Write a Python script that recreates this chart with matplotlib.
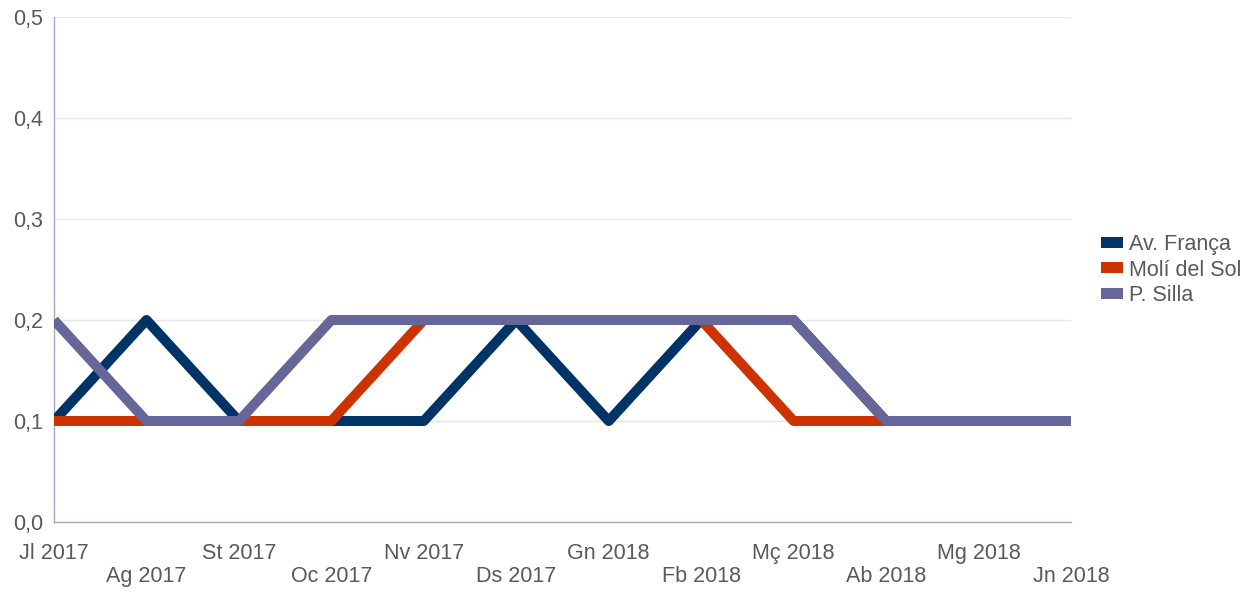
import matplotlib.pyplot as plt
from matplotlib.patches import Patch
from matplotlib.ticker import FuncFormatter

months = ['Jl 2017', 'Ag 2017', 'St 2017', 'Oc 2017', 'Nv 2017', 'Ds 2017',
          'Gn 2018', 'Fb 2018', 'Mç 2018', 'Ab 2018', 'Mg 2018', 'Jn 2018']

av_franca = [0.1, 0.2, 0.1, 0.1, 0.1, 0.2, 0.1, 0.2, 0.2, 0.1, 0.1, 0.1]
moli_sol = [0.1, 0.1, 0.1, 0.1, 0.2, 0.2, 0.2, 0.2, 0.1, 0.1, 0.1, 0.1]
p_silla = [0.2, 0.1, 0.1, 0.2, 0.2, 0.2, 0.2, 0.2, 0.2, 0.1, 0.1, 0.1]

series = [('Av. França', av_franca, '#003366'),
          ('Molí del Sol', moli_sol, '#cc3300'),
          ('P. Silla', p_silla, '#666699')]

text_col = '#595959'
plt.rcParams['font.family'] = ['Liberation Sans', 'DejaVu Sans']

fig = plt.figure(figsize=(12.53, 5.92), dpi=100)
ax = fig.add_axes([54 / 1253, 1 - 522 / 592, (1071 - 54) / 1253, (522 - 17) / 592])

x = list(range(len(months)))
for name, vals, col in series:
    ax.plot(x, vals, color=col, lw=7.2, solid_joinstyle='round',
            solid_capstyle='butt', label=name, zorder=3)

ax.set_xlim(0, len(months) - 1)
ax.set_ylim(0, 0.5)
ax.set_yticks([0, 0.1, 0.2, 0.3, 0.4, 0.5])
ax.yaxis.set_major_formatter(FuncFormatter(lambda v, p: f'{v:.1f}'.replace('.', ',')))
ax.grid(axis='y', color='#e6e6ee', lw=1)
ax.set_axisbelow(True)

for s in ['top', 'right']:
    ax.spines[s].set_visible(False)
for s in ['left', 'bottom']:
    ax.spines[s].set_color('#a6a6c4')
    ax.spines[s].set_linewidth(1)

ax.set_xticks(x)
ax.set_xticklabels(months)
ax.tick_params(axis='both', length=0, labelsize=15.5, labelcolor=text_col)
ax.tick_params(axis='y', pad=8)

# stagger the month labels on two rows
for i, t in enumerate(ax.xaxis.get_major_ticks()):
    t.set_pad(15 if i % 2 == 0 else 32)

handles = [Patch(facecolor=col, edgecolor='none', label=name)
           for name, vals, col in series]
leg = ax.legend(handles=handles, loc='center left',
                bbox_to_anchor=(1101 / 1253, 1 - 270 / 592),
                bbox_transform=fig.transFigure, frameon=False, fontsize=15.5,
                handlelength=1.0, handleheight=0.4, handletextpad=0.3,
                labelspacing=0.22, borderaxespad=0, borderpad=0)
for t in leg.get_texts():
    t.set_color(text_col)

fig.savefig('out.png', dpi=100)
